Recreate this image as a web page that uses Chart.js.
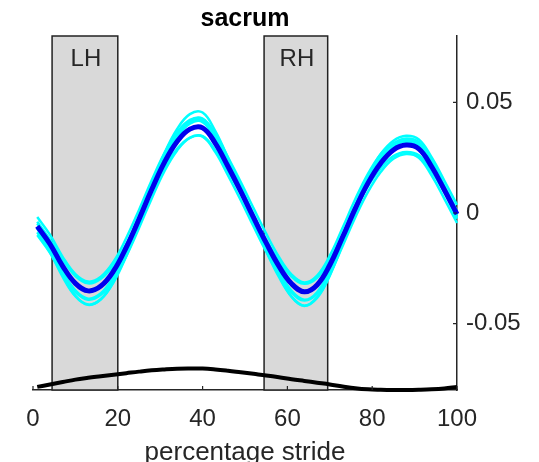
<!DOCTYPE html>
<html>
<head>
<meta charset="utf-8">
<script src="https://cdn.jsdelivr.net/npm/chart.js@4/dist/chart.umd.min.js"></script>
<style>
  html, body { margin: 0; padding: 0; background: #fff; }
</style>
</head>
<body>
<canvas id="chart" width="539" height="462"></canvas>
<script>
// Sacrum vertical displacement over one stride

const strideX = [1, 4, 7, 10, 13, 16, 19, 22, 25, 28, 31, 34, 37, 40, 43, 46, 49, 52, 55, 58, 61, 64, 67, 70, 73, 76, 79, 82, 85, 88, 91, 94, 97, 100];

// mean curve (dark blue)
const sacrumMean = [-0.006, -0.014, -0.024, -0.0318, -0.0352, -0.033, -0.0262, -0.0155, -0.0028, 0.0106, 0.0229, 0.0323, 0.0379, 0.0385, 0.0315, 0.021, 0.0098, -0.002, -0.0135, -0.024, -0.032, -0.0356, -0.0325, -0.0235, -0.011, 0.002, 0.0135, 0.0225, 0.0285, 0.0307, 0.029, 0.021, 0.0105, -0.0005];

// single strides (cyan)
const trial1 = [-0.007, -0.0165, -0.028, -0.0375, -0.0415, -0.039, -0.031, -0.018, -0.003, 0.0125, 0.027, 0.038, 0.0447, 0.0454, 0.037, 0.0248, 0.0116, -0.0024, -0.016, -0.028, -0.038, -0.042, -0.038, -0.028, -0.013, 0.0024, 0.016, 0.0265, 0.031, 0.033, 0.031, 0.023, 0.011, -0.002];
const trial2 = [-0.004, -0.012, -0.021, -0.0285, -0.0318, -0.0297, -0.0235, -0.014, -0.0025, 0.0095, 0.0206, 0.029, 0.0341, 0.0347, 0.0283, 0.0189, 0.0088, -0.0018, -0.0122, -0.0216, -0.0288, -0.032, -0.0293, -0.0212, -0.0099, 0.0018, 0.0122, 0.0203, 0.0257, 0.0276, 0.0261, 0.0189, 0.0095, -0.0005];
const trial3 = [-0.0066, -0.0154, -0.0264, -0.035, -0.0387, -0.0363, -0.0288, -0.0171, -0.0031, 0.0117, 0.0252, 0.0355, 0.0417, 0.0424, 0.0347, 0.0231, 0.0108, -0.0022, -0.0149, -0.0264, -0.0352, -0.0392, -0.0358, -0.0259, -0.0121, 0.0022, 0.0149, 0.0248, 0.0314, 0.0322, 0.0305, 0.0226, 0.0112, -0.001];
const trial4 = [-0.01, -0.018, -0.028, -0.0358, -0.0392, -0.037, -0.0302, -0.0195, -0.0068, 0.0066, 0.0189, 0.0283, 0.0339, 0.0345, 0.0275, 0.017, 0.0058, -0.006, -0.0175, -0.028, -0.036, -0.0396, -0.0365, -0.0275, -0.015, -0.002, 0.0095, 0.0185, 0.0245, 0.0267, 0.025, 0.017, 0.0065, -0.0045];
const trial5 = [-0.0048, -0.0132, -0.0237, -0.0319, -0.0355, -0.0332, -0.026, -0.0148, -0.0014, 0.0126, 0.0255, 0.0354, 0.0413, 0.0419, 0.0346, 0.0236, 0.0118, -0.0006, -0.0127, -0.0237, -0.0321, -0.0359, -0.0326, -0.0232, -0.0101, 0.0036, 0.0157, 0.0251, 0.0314, 0.0337, 0.032, 0.0236, 0.0125, 0.001];
const trial6 = [-0.0087, -0.0177, -0.0289, -0.0376, -0.0414, -0.039, -0.0313, -0.0194, -0.0051, 0.0099, 0.0236, 0.0342, 0.0404, 0.0411, 0.0333, 0.0215, 0.009, -0.0042, -0.0171, -0.0289, -0.0378, -0.0419, -0.0384, -0.0283, -0.0143, 0.0002, 0.0131, 0.0232, 0.0299, 0.0324, 0.0305, 0.0215, 0.0098, -0.0026];
const trial7 = [-0.0018, -0.0098, -0.0198, -0.0276, -0.031, -0.0288, -0.022, -0.0113, 0.0014, 0.0148, 0.0271, 0.0365, 0.0421, 0.0427, 0.0357, 0.0252, 0.014, 0.0022, -0.0093, -0.0198, -0.0278, -0.0314, -0.0283, -0.0193, -0.0068, 0.0062, 0.0177, 0.0267, 0.0327, 0.0349, 0.0332, 0.0252, 0.0147, 0.0037];

// black trace near the bottom
const lowerTrace = [-0.0786, -0.0775, -0.0764, -0.0753, -0.0745, -0.0738, -0.0731, -0.0724, -0.0717, -0.0711, -0.0707, -0.0704, -0.0703, -0.0703, -0.0707, -0.0713, -0.072, -0.0727, -0.0734, -0.0742, -0.0751, -0.0759, -0.0767, -0.0775, -0.0784, -0.0792, -0.0797, -0.0799, -0.08, -0.08, -0.0799, -0.0797, -0.0793, -0.0786];

// hind limb phases (grey boxes)
const phaseNames = ['LH', 'RH'];
const phaseStart = [4.5, 54.5];
const phaseEnd = [20, 69.5];

const xTicks = [0, 20, 40, 60, 80, 100];
const yTicks = [-0.05, 0, 0.05];
const chartTitle = 'sacrum';

const FONT = "'Liberation Sans', Arial, sans-serif";
const INK = '#262626';

function toPoints(values) {
    return strideX.map((x, i) => ({ x: x, y: values[i] }));
}

const trials = [trial1, trial2, trial3, trial4, trial5, trial6, trial7];
const datasets = trials.map(t => ({
    data: toPoints(t),
    borderColor: '#00ffff',
    borderWidth: 2.5,
    pointRadius: 0,
    tension: 0.4,
    order: 2
}));
datasets.push({ data: toPoints(sacrumMean), borderColor: '#0000ee', borderWidth: 5, pointRadius: 0, tension: 0.4, order: 1 });
datasets.push({ data: toPoints(lowerTrace), borderColor: '#000000', borderWidth: 4, pointRadius: 0, tension: 0.4, order: 0 });

// grey phase boxes behind the curves, plus the title centred on the axes
const phaseBoxes = {
    id: 'phaseBoxes',
    beforeDatasetsDraw(chart) {
        const { ctx, chartArea, scales: { x } } = chart;
        ctx.save();
        phaseNames.forEach((name, i) => {
            const x0 = x.getPixelForValue(phaseStart[i]);
            const x1 = x.getPixelForValue(phaseEnd[i]);
            ctx.fillStyle = '#d9d9d9';
            ctx.fillRect(x0, chartArea.top, x1 - x0, chartArea.bottom - chartArea.top);
            ctx.strokeStyle = '#222';
            ctx.lineWidth = 1.5;
            ctx.strokeRect(x0, chartArea.top, x1 - x0, chartArea.bottom - chartArea.top);
            ctx.fillStyle = INK;
            ctx.font = '24px ' + FONT;
            ctx.textAlign = 'center';
            ctx.textBaseline = 'middle';
            ctx.fillText(name, (x0 + x1) / 2 + 1, chartArea.top + 23);
        });
        ctx.fillStyle = '#000';
        ctx.font = 'bold 25px ' + FONT;
        ctx.textAlign = 'center';
        ctx.textBaseline = 'alphabetic';
        ctx.fillText(chartTitle, (chartArea.left + chartArea.right) / 2, 26);
        ctx.restore();
    }
};

// matlab style inward tick marks
const inwardTicks = {
    id: 'inwardTicks',
    afterDraw(chart) {
        const { ctx, chartArea, scales: { x, y } } = chart;
        ctx.save();
        ctx.strokeStyle = INK;
        ctx.lineWidth = 1.2;
        ctx.beginPath();
        xTicks.forEach(v => {
            const px = x.getPixelForValue(v);
            ctx.moveTo(px, chartArea.bottom);
            ctx.lineTo(px, chartArea.bottom - 4);
        });
        yTicks.forEach(v => {
            const py = y.getPixelForValue(v);
            ctx.moveTo(chartArea.right, py);
            ctx.lineTo(chartArea.right - 4, py);
        });
        ctx.stroke();
        ctx.restore();
    }
};

new Chart(document.getElementById('chart'), {
    type: 'line',
    data: { datasets: datasets },
    options: {
        responsive: false,
        animation: false,
        devicePixelRatio: 1,
        clip: false,
        layout: { padding: { left: 33, right: 0, top: 36, bottom: 0 } },
        plugins: {
            legend: { display: false },
            tooltip: { enabled: false },
            title: { display: false }
        },
        scales: {
            x: {
                type: 'linear',
                min: 0,
                max: 100,
                grid: { display: false, drawTicks: false },
                border: { display: true, color: INK, width: 1.5 },
                ticks: {
                    stepSize: 20,
                    padding: 15,
                    color: INK,
                    font: { family: FONT, size: 24 }
                },
                title: {
                    display: true,
                    text: 'percentage stride',
                    color: INK,
                    font: { family: FONT, size: 26, lineHeight: 0.7 },
                    padding: { top: 0, bottom: 0 }
                },
                afterFit(scale) { scale.height = 72; }
            },
            y: {
                type: 'linear',
                position: 'right',
                min: -0.08,
                max: 0.08,
                grid: { display: false, drawTicks: false },
                border: { display: true, color: INK, width: 1.5 },
                afterBuildTicks(scale) { scale.ticks = yTicks.map(v => ({ value: v })); },
                ticks: {
                    padding: 9,
                    color: INK,
                    font: { family: FONT, size: 24 },
                    callback: v => String(v)
                },
                afterFit(scale) { scale.width = 82; }
            }
        }
    },
    plugins: [phaseBoxes, inwardTicks]
});
</script>
</body>
</html>
